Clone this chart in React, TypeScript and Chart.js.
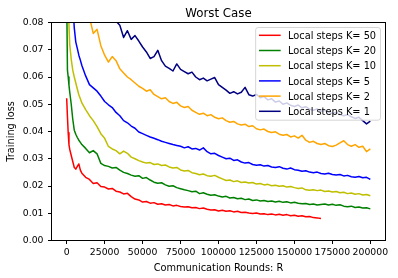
import React, { useEffect, useRef } from 'react';
import { Chart, registerables } from 'chart.js';

Chart.register(...registerables);

const TITLE = 'Worst Case';
const X_LABEL = 'Communication Rounds: R';
const Y_LABEL = 'Training loss';

const X_TICKS = [0, 25000, 50000, 75000, 100000, 125000, 150000, 175000, 200000];
const Y_TICKS = [0, 0.01, 0.02, 0.03, 0.04, 0.05, 0.06, 0.07, 0.08];

const ROUNDS = [
  0, 500, 1000, 1500, 2000, 3000, 4000, 5000, 6000, 7000, 8000, 9000, 10000,
  12500, 15000, 17500, 20000, 22500, 25000, 27500, 30000, 32500, 35000, 37500,
  40000, 42500, 45000, 47500, 50000, 52500, 55000, 57500, 60000, 62500, 65000,
  67500, 70000, 72500, 75000, 77500, 80000, 82500, 85000, 87500, 90000, 92500,
  95000, 97500, 100000, 102500, 105000, 107500, 110000, 112500, 115000, 117500,
  120000, 122500, 125000, 127500, 130000, 132500, 135000, 137500, 140000, 142500,
  145000, 147500, 150000, 152500, 155000, 157500, 160000, 162500, 165000, 167500,
  170000, 172500, 175000, 177500, 180000, 182500, 185000, 187500, 190000, 192500,
  195000, 197500, 200000,
];

const K50 = [
  0.0522, 0.0455, 0.0395, 0.0352, 0.0335, 0.0312, 0.0290, 0.0268, 0.0262, 0.0272, 0.0281, 0.0258, 0.0247,
  0.0232, 0.0224, 0.0209, 0.0212, 0.0198, 0.0196, 0.0189, 0.0191, 0.0181, 0.0178, 0.0171,
  0.0173, 0.0161, 0.0152, 0.0149, 0.0141, 0.0143, 0.0137, 0.0139, 0.0133, 0.0135, 0.0130,
  0.0132, 0.0127, 0.0129, 0.0125, 0.0123, 0.0124, 0.0120, 0.0121, 0.0117, 0.0119, 0.0115,
  0.0112, 0.0113, 0.0108, 0.0111, 0.0107, 0.0109, 0.0105, 0.0107, 0.0103, 0.0104,
  0.0101, 0.0099, 0.0101, 0.0097, 0.0098, 0.0095, 0.0097, 0.0094, 0.0096, 0.0093,
  0.0095, 0.0091, 0.0093, 0.0089, 0.0091, 0.0087, 0.0088, 0.0084, 0.0083, 0.0081,
];

const K20 = [
  0.0900, 0.0625, 0.0600, 0.0570, 0.0545, 0.0500, 0.0445, 0.0405, 0.0390, 0.0378, 0.0368, 0.0360, 0.0352,
  0.0338, 0.0322, 0.0330, 0.0318, 0.0283, 0.0275, 0.0272, 0.0266, 0.0268, 0.0258, 0.0250,
  0.0246, 0.0240, 0.0236, 0.0238, 0.0228, 0.0231, 0.0222, 0.0214, 0.0210, 0.0212, 0.0204,
  0.0199, 0.0201, 0.0194, 0.0190, 0.0186, 0.0183, 0.0179, 0.0181, 0.0172, 0.0175, 0.0170,
  0.0166, 0.0168, 0.0163, 0.0160, 0.0162, 0.0156, 0.0158, 0.0153, 0.0155, 0.0150,
  0.0152, 0.0147, 0.0149, 0.0145, 0.0147, 0.0143, 0.0145, 0.0141, 0.0144, 0.0140,
  0.0142, 0.0138, 0.0140, 0.0137, 0.0135, 0.0136, 0.0132, 0.0134, 0.0130, 0.0132,
  0.0134, 0.0130, 0.0133, 0.0129, 0.0131, 0.0126, 0.0124, 0.0126, 0.0121, 0.0123,
  0.0119, 0.0120, 0.0116,
];

const K10 = [
  0.1100, 0.0980, 0.0870, 0.0790, 0.0720, 0.0665, 0.0625, 0.0600, 0.0578, 0.0556, 0.0535, 0.0520, 0.0505,
  0.0480, 0.0458, 0.0440, 0.0418, 0.0392, 0.0375, 0.0345, 0.0336, 0.0330, 0.0318, 0.0328,
  0.0320, 0.0306, 0.0300, 0.0293, 0.0288, 0.0284, 0.0286, 0.0279, 0.0281, 0.0275, 0.0277,
  0.0270, 0.0266, 0.0268, 0.0259, 0.0255, 0.0257, 0.0249, 0.0246, 0.0241, 0.0244, 0.0238,
  0.0236, 0.0239, 0.0232, 0.0226, 0.0220, 0.0222, 0.0216, 0.0219, 0.0213, 0.0215,
  0.0211, 0.0213, 0.0207, 0.0209, 0.0204, 0.0206, 0.0201, 0.0203, 0.0199, 0.0201,
  0.0196, 0.0198, 0.0194, 0.0191, 0.0193, 0.0186, 0.0184, 0.0186, 0.0183, 0.0185,
  0.0180, 0.0182, 0.0178, 0.0180, 0.0175, 0.0177, 0.0172, 0.0174, 0.0170, 0.0172,
  0.0167, 0.0169, 0.0164,
];

const K5 = [
  0.1500, 0.1400, 0.1300, 0.1220, 0.1140, 0.1000, 0.0880, 0.0780, 0.0728, 0.0705, 0.0680, 0.0662, 0.0642,
  0.0604, 0.0572, 0.0560, 0.0548, 0.0530, 0.0510, 0.0498, 0.0488, 0.0470, 0.0458, 0.0440,
  0.0432, 0.0420, 0.0412, 0.0398, 0.0392, 0.0386, 0.0380, 0.0375, 0.0370, 0.0364, 0.0360,
  0.0356, 0.0352, 0.0349, 0.0346, 0.0340, 0.0344, 0.0336, 0.0338, 0.0332, 0.0340, 0.0326,
  0.0318, 0.0320, 0.0312, 0.0306, 0.0300, 0.0302, 0.0294, 0.0296, 0.0288, 0.0284,
  0.0286, 0.0279, 0.0276, 0.0278, 0.0273, 0.0275, 0.0270, 0.0268, 0.0271, 0.0265,
  0.0262, 0.0266, 0.0260, 0.0258, 0.0254, 0.0256, 0.0251, 0.0249, 0.0251, 0.0246,
  0.0244, 0.0247, 0.0242, 0.0240, 0.0242, 0.0237, 0.0239, 0.0234, 0.0232, 0.0235,
  0.0230, 0.0232, 0.0224,
];

const K2 = [
  0.200, 0.190, 0.180, 0.172, 0.165, 0.152, 0.142, 0.133, 0.126, 0.119, 0.113, 0.108, 0.1030,
  0.0920, 0.0820, 0.0760, 0.0775, 0.0715, 0.0680, 0.0655, 0.0675, 0.0660, 0.0630, 0.0615,
  0.0600, 0.0590, 0.0578, 0.0566, 0.0558, 0.0548, 0.0553, 0.0536, 0.0528, 0.0520, 0.0524,
  0.0510, 0.0503, 0.0507, 0.0494, 0.0488, 0.0492, 0.0478, 0.0470, 0.0463, 0.0467, 0.0458,
  0.0462, 0.0452, 0.0447, 0.0450, 0.0440, 0.0434, 0.0437, 0.0428, 0.0424, 0.0427,
  0.0418, 0.0421, 0.0410, 0.0406, 0.0409, 0.0400, 0.0396, 0.0399, 0.0390, 0.0386,
  0.0389, 0.0380, 0.0384, 0.0376, 0.0386, 0.0368, 0.0360, 0.0364, 0.0356, 0.0352,
  0.0356, 0.0348, 0.0345, 0.0350, 0.0358, 0.0366, 0.0352, 0.0346, 0.0352, 0.0342,
  0.0346, 0.0326, 0.0336,
];

const K1 = [
  0.300, 0.290, 0.280, 0.270, 0.260, 0.245, 0.230, 0.215, 0.200, 0.190, 0.180, 0.170, 0.160,
  0.140, 0.125, 0.112, 0.102, 0.095, 0.090, 0.0860, 0.0830, 0.0805, 0.0790, 0.0745,
  0.0770, 0.0738, 0.0752, 0.0732, 0.0710, 0.0692, 0.0668, 0.0675, 0.0698, 0.0660, 0.0640,
  0.0632, 0.0622, 0.0648, 0.0628, 0.0620, 0.0612, 0.0618, 0.0600, 0.0590, 0.0596, 0.0586,
  0.0592, 0.0598, 0.0572, 0.0562, 0.0552, 0.0540, 0.0546, 0.0538, 0.0544, 0.0562,
  0.0535, 0.0530, 0.0536, 0.0524, 0.0528, 0.0516, 0.0520, 0.0508, 0.0512, 0.0500,
  0.0505, 0.0496, 0.0492, 0.0497, 0.0487, 0.0491, 0.0482, 0.0478, 0.0483, 0.0474,
  0.0478, 0.0470, 0.0466, 0.0471, 0.0462, 0.0458, 0.0462, 0.0454, 0.0448, 0.0452,
  0.0440, 0.0428, 0.0438,
];

const SERIES_LABELS = [
  'Local steps K= 50',
  'Local steps K= 20',
  'Local steps K= 10',
  'Local steps K= 5',
  'Local steps K= 2',
  'Local steps K= 1',
];
const SERIES_VALUES = [K50, K20, K10, K5, K2, K1];
const SERIES_COLORS = ['#ff0000', '#008000', '#bfbf00', '#0000ff', '#ffa500', '#000080'];

const FONT = '"DejaVu Sans", "Liberation Sans", sans-serif';
const FS = 9.8;
const TICK_FS = 9.3;

const overlayPlugin = {
  id: 'mplOverlay',
  afterDraw(chart: any) {
    const { ctx, chartArea } = chart;
    const { left, top, right, bottom } = chartArea;
    ctx.save();
    ctx.strokeStyle = '#000';
    ctx.lineWidth = 1;
    ctx.strokeRect(left, top, right - left, bottom - top);

    ctx.fillStyle = '#000';
    ctx.font = `11.8px ${FONT}`;
    ctx.textAlign = 'center';
    ctx.textBaseline = 'alphabetic';
    ctx.fillText(TITLE, (left + right) / 2, 16.5);

    ctx.font = `${FS}px ${FONT}`;
    ctx.fillText(X_LABEL, (left + right) / 2, 270.5);

    ctx.save();
    ctx.translate(14.2, (top + bottom) / 2);
    ctx.rotate(-Math.PI / 2);
    ctx.fillText(Y_LABEL, 0, 0);
    ctx.restore();

    ctx.font = `${FS}px ${FONT}`;
    let textW = 0;
    SERIES_LABELS.forEach((l) => {
      textW = Math.max(textW, ctx.measureText(l).width);
    });
    const pad = 3.3;
    const handle = 21.7;
    const gap = 7.3;
    const rowH = 15.2;
    const boxW = pad + handle + gap + textW + 4.4;
    const boxH = 92.7;
    const bx = right - 5 - boxW;
    const by = top + 5;
    ctx.beginPath();
    if ((ctx as any).roundRect) {
      (ctx as any).roundRect(bx, by, boxW, boxH, 2.5);
    } else {
      ctx.rect(bx, by, boxW, boxH);
    }
    ctx.fillStyle = 'rgba(255,255,255,0.8)';
    ctx.fill();
    ctx.strokeStyle = 'rgba(204,204,204,0.8)';
    ctx.lineWidth = 1;
    ctx.stroke();

    ctx.textAlign = 'left';
    SERIES_LABELS.forEach((l, i) => {
      const ry = by + 7.8 + i * rowH;
      ctx.beginPath();
      ctx.strokeStyle = SERIES_COLORS[i];
      ctx.lineWidth = 1.5;
      ctx.moveTo(bx + pad, ry);
      ctx.lineTo(bx + pad + handle, ry);
      ctx.stroke();
      ctx.fillStyle = '#000';
      ctx.fillText(l, bx + pad + handle + gap, ry + 3.6);
    });
    ctx.restore();
  },
};

export default function App() {
  const ref = useRef<HTMLCanvasElement>(null);

  useEffect(() => {
    if (!ref.current) return;
    const datasets = SERIES_VALUES.map((vals, i) => ({
      label: SERIES_LABELS[i],
      data: vals.map((v, j) => ({ x: ROUNDS[j], y: v })),
      borderColor: SERIES_COLORS[i],
      backgroundColor: SERIES_COLORS[i],
      borderWidth: 1.5,
      pointRadius: 0,
      tension: 0,
      fill: false,
      clip: 0,
      borderJoinStyle: 'round' as const,
    }));
    const tickFont = { family: FONT, size: TICK_FS };
    const chart = new Chart(ref.current, {
      type: 'line',
      data: { datasets },
      options: {
        animation: false,
        responsive: false,
        devicePixelRatio: 1,
        events: [],
        layout: { padding: { top: 22.5, right: 12.5, left: 0, bottom: 0 } },
        plugins: {
          legend: { display: false },
          title: { display: false },
          tooltip: { enabled: false },
        },
        scales: {
          x: {
            type: 'linear',
            min: -10000,
            max: 210000,
            afterBuildTicks: (s: any) => {
              s.ticks = X_TICKS.map((v) => ({ value: v }));
            },
            afterFit: (s: any) => {
              s.height = 37.5;
            },
            grid: {
              drawOnChartArea: false,
              drawTicks: true,
              tickLength: 3.5,
              tickColor: '#000',
              tickWidth: 1,
            },
            border: { display: false },
            ticks: {
              font: tickFont,
              color: '#000',
              padding: 3.5,
              maxRotation: 0,
              autoSkip: false,
              callback: (v: any) => String(v),
            },
          },
          y: {
            type: 'linear',
            min: 0,
            max: 0.08,
            afterBuildTicks: (s: any) => {
              s.ticks = Y_TICKS.map((v) => ({ value: v }));
            },
            afterFit: (s: any) => {
              s.width = 51.5;
            },
            grid: {
              drawOnChartArea: false,
              drawTicks: true,
              tickLength: 3.5,
              tickColor: '#000',
              tickWidth: 1,
            },
            border: { display: false },
            ticks: {
              font: tickFont,
              color: '#000',
              padding: 4.5,
              autoSkip: false,
              callback: (v: any) => Number(v).toFixed(2),
            },
          },
        },
      },
      plugins: [overlayPlugin],
    });
    return () => chart.destroy();
  }, []);

  return (
    <div style={{ position: 'fixed', left: 0, top: 0, width: 398, height: 278, background: '#fff' }}>
      <canvas ref={ref} width={398} height={278} style={{ display: 'block' }} />
    </div>
  );
}
